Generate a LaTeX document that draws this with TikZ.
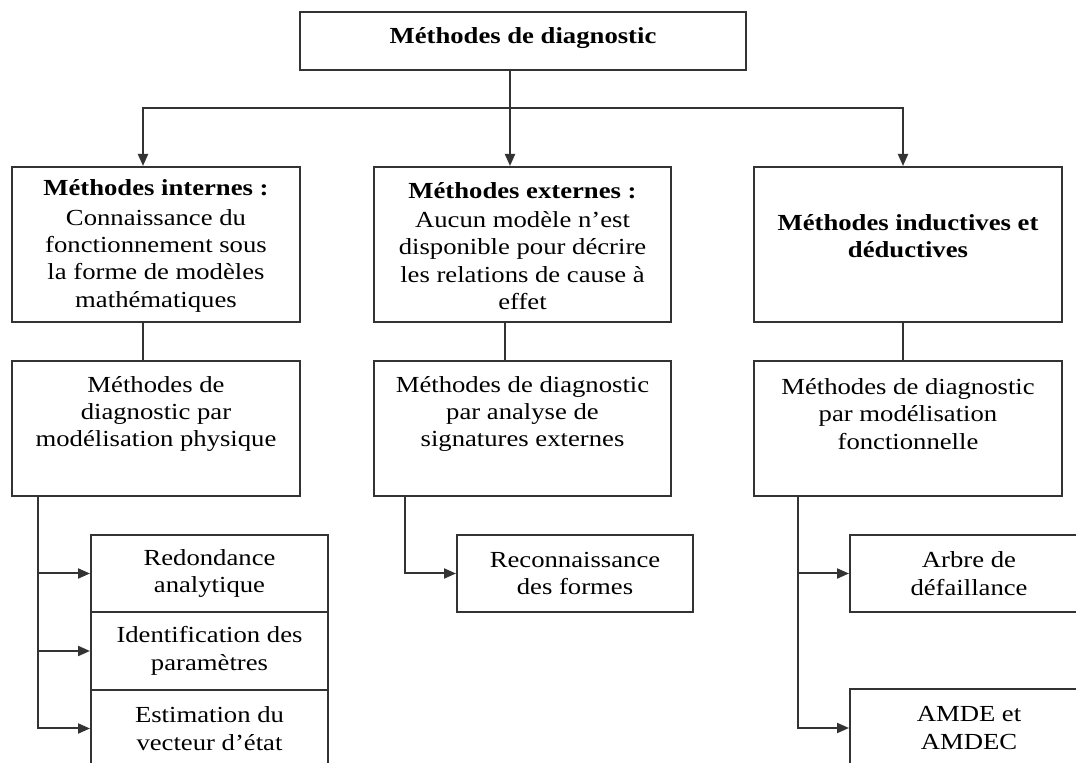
\documentclass[tikz,border=0pt]{standalone}
\usepackage{fontspec}
\setmainfont{Liberation Serif}[FakeStretch=1.16]
\usetikzlibrary{arrows.meta}
\newcommand\dfont{\fontsize{11.5}{13.65}\selectfont}
\begin{document}
\begin{tikzpicture}[x=0.5pt,y=-0.5pt,
  box/.style={draw=black!80, line width=1pt, inner sep=0pt, align=center, font=\dfont},
  txt/.style={align=center, font=\dfont, inner sep=0pt},
  link/.style={draw=black!80, line width=1pt},
  arr/.style={link, -{Triangle[length=6pt,width=5pt]}}]
\useasboundingbox (0,0) rectangle (1076,763);
\clip (0,0) rectangle (1076,763);
\fill[white] (0,0) rectangle (1076,763);
% level 0
\node[box, minimum width=223pt, minimum height=29pt] (top) at (523,41) {};
\node[txt, font=\dfont\bfseries] (ttop) at (523,38) {Méthodes de diagnostic};
% level 1
\node[box, minimum width=144pt, minimum height=77.5pt] (b1) at (156,244.5) {};
\node[box, minimum width=148.5pt, minimum height=77.5pt] (b2) at (522.5,244.5) {};
\node[box, minimum width=154pt, minimum height=77.5pt] (b3) at (908,244.5) {};
\node[txt] (t1) at (156,246) {\textbf{Méthodes internes :}\\[1pt]Connaissance du\\fonctionnement sous\\la forme de modèles\\mathématiques};
\node[txt] (t2) at (522.5,246) {\textbf{Méthodes externes :}\\[1pt]Aucun modèle n’est\\disponible pour décrire\\les relations de cause à\\effet};
\node[txt, font=\dfont\bfseries] (t3) at (908,236) {Méthodes inductives et\\déductives};
% level 2
\node[box, minimum width=144pt, minimum height=67.5pt] (b1b) at (156,428.5) {};
\node[box, minimum width=148.5pt, minimum height=67.5pt] (b2b) at (522.5,428.5) {};
\node[box, minimum width=154pt, minimum height=67.5pt] (b3b) at (908,428.5) {};
\node[txt] (t1b) at (156,414) {Méthodes de\\diagnostic par\\modélisation physique};
\node[txt] (t2b) at (522.5,414) {Méthodes de diagnostic\\par analyse de\\signatures externes};
\node[txt] (t3b) at (908,414) {Méthodes de diagnostic\\par modélisation\\fonctionnelle};
% leaves
\node[box, minimum width=118.5pt, minimum height=38.5pt] (l1) at (209.5,573.5) {Redondance\\analytique};
\node[box, minimum width=118.5pt, minimum height=39pt] (l2) at (209.5,651) {Identification des\\paramètres};
\node[box, minimum width=118.5pt, minimum height=38.5pt] (l3) at (209.5,728.5) {Estimation du\\vecteur d’état};
\node[box, minimum width=118pt, minimum height=38.5pt] (r1) at (575,573.5) {Reconnaissance\\des formes};
\node[box, minimum width=119pt, minimum height=38.5pt] (a1) at (969,573.5) {Arbre de\\défaillance};
\node[box, minimum width=119pt, minimum height=39pt] (a2) at (969,728) {AMDE et\\AMDEC};
% junction coordinates
\coordinate (j) at (510,108);
\coordinate (c1) at (143,108);
\coordinate (c3) at (903,108);
\coordinate (v2) at (505,0);
\coordinate (s1) at (38,0);
\coordinate (s2) at (405,0);
\coordinate (s3) at (798,0);
% connectors
\draw[arr] (top.south -| j) -- (b2.north -| j);
\draw[arr] (j) -- (c1) -- (b1.north -| c1);
\draw[arr] (j) -- (c3) -- (b3.north -| c3);
\draw[link] (b1.south -| c1) -- (b1b.north -| c1);
\draw[link] (b2.south -| v2) -- (b2b.north -| v2);
\draw[link] (b3.south -| c3) -- (b3b.north -| c3);
\draw[arr] (b1b.south -| s1) |- (l1.west);
\draw[arr] (b1b.south -| s1) |- (l2.west);
\draw[arr] (b1b.south -| s1) |- (l3.west);
\draw[arr] (b2b.south -| s2) |- (r1.west);
\draw[arr] (b3b.south -| s3) |- (a1.west);
\draw[arr] (b3b.south -| s3) |- (a2.west);
\end{tikzpicture}
\end{document}
